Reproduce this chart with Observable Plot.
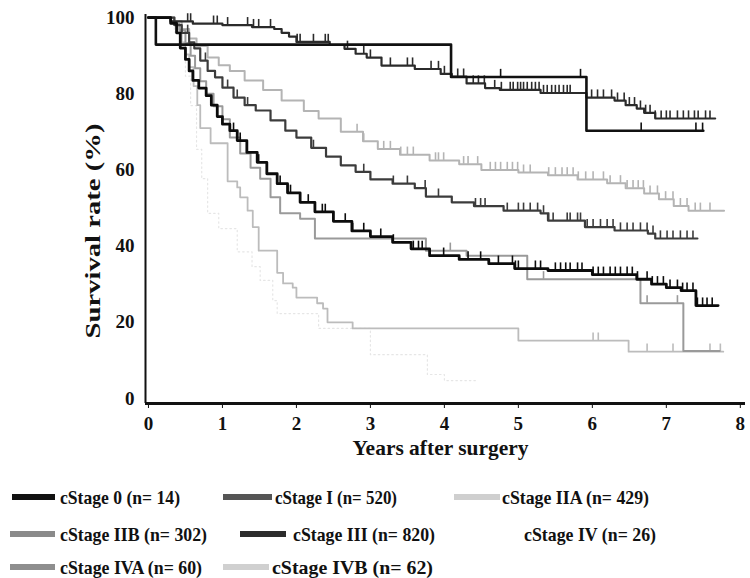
<!DOCTYPE html>
<html><head><meta charset="utf-8">
<script src="https://cdn.jsdelivr.net/npm/d3@7"></script>
<script src="https://cdn.jsdelivr.net/npm/@observablehq/plot@0.6"></script>
<style>
body{margin:0;background:#fff;}
#chart svg{display:block}
</style>
</head><body><div id="chart"></div><script>
// ---------- data ----------
const stages = ["cStage 0", "cStage I", "cStage IIA", "cStage IIB", "cStage III", "cStage IV", "cStage IVA", "cStage IVB"];
const nCounts = [14, 520, 429, 302, 820, 26, 60, 62];
const xTicks = [0, 1, 2, 3, 4, 5, 6, 7, 8];
const yTicks = [0, 20, 40, 60, 80, 100];
const xLabel = "Years after surgery";
const yLabel = "Survival rate (%)";

const t0 = [0, 0.1, 4.09, 5.92, 7.5];
const s0 = [100, 92.9, 84.4, 70.3, 70.3];
const c0 = [4.76, 5.84, 6.66, 7.4, 7.49];

const tI = [0, 0.3, 0.6, 1.0, 1.4, 1.7, 1.8, 1.9, 2.0, 2.45, 2.65, 2.8, 2.95, 3.15, 3.6, 3.95, 4.1, 4.3, 4.55, 4.75, 5.3, 5.92, 6.3, 6.45, 6.6, 6.7, 6.85, 7.66];
const sI = [100, 99, 98.4, 98, 97.5, 97, 96, 95, 93.6, 92.8, 91.8, 90.5, 89.5, 87.4, 86.5, 85.2, 84.5, 82.7, 81.5, 81, 80.2, 79, 78.2, 77, 76.1, 75, 73.5, 73.5];
const cI = [0.53, 0.57, 0.88, 0.93, 1.07, 1.34, 1.42, 1.49, 1.65, 2.01, 2.05, 2.23, 2.39, 2.43, 2.69, 2.91, 3.0, 3.27, 3.5, 3.57, 3.82, 3.92, 4.0, 4.18, 4.26, 4.39, 4.46, 4.54, 4.68, 4.77, 4.89, 4.93, 4.99, 5.03, 5.07, 5.12, 5.18, 5.23, 5.28, 5.34, 5.39, 5.45, 5.5, 5.55, 5.61, 5.66, 5.7, 5.99, 6.07, 6.15, 6.26, 6.34, 6.43, 6.5, 6.57, 6.65, 6.72, 6.78, 6.85, 6.93, 7.0, 7.05, 7.15, 7.23, 7.3, 7.38, 7.43, 7.53, 7.59];

const tIIA = [0, 0.3, 0.45, 0.55, 0.65, 0.8, 0.95, 1.1, 1.3, 1.55, 1.8, 2.1, 2.3, 2.6, 2.9, 3.1, 3.4, 3.8, 4.2, 4.5, 5.0, 5.4, 5.8, 6.2, 6.45, 6.7, 6.9, 7.1, 7.3, 7.78];
const sIIA = [100, 99, 97, 94.5, 92.5, 89.5, 87.5, 86, 83.5, 81, 78.2, 75.5, 73.5, 70, 67.5, 65.5, 64, 62.5, 61.5, 60, 59.3, 58.6, 57.5, 56.5, 55.2, 53.8, 52.3, 50.5, 49.3, 49.3];
const cIIA = [2.82, 2.91, 3.18, 3.27, 3.41, 3.5, 3.58, 3.88, 3.92, 3.99, 4.26, 4.32, 4.45, 4.62, 4.69, 4.76, 4.85, 4.92, 4.99, 5.07, 5.16, 5.41, 5.5, 5.59, 5.66, 5.74, 5.81, 5.91, 6.01, 6.15, 6.24, 6.38, 6.47, 6.55, 6.62, 6.69, 6.78, 6.88, 6.99, 7.09, 7.19, 7.28, 7.39, 7.46, 7.59];

const tIIB = [0, 0.35, 0.45, 0.55, 0.62, 0.7, 0.8, 0.9, 1.0, 1.15, 1.3, 1.45, 1.65, 1.85, 2.0, 2.2, 2.4, 2.6, 2.8, 3.0, 3.3, 3.6, 3.75, 4.1, 4.4, 4.8, 5.3, 5.4, 5.9, 6.3, 6.75, 6.85, 7.42];
const sIIB = [100, 98, 96, 93.5, 91.9, 88.7, 86, 84.3, 81.6, 79, 77, 75.6, 73, 70.3, 68.5, 65.8, 63.5, 61.2, 59.5, 57.5, 56.4, 55.2, 53, 51.5, 50.5, 49.3, 48.6, 46.7, 45, 44.1, 43.3, 42, 42];
const cIIB = [0.53, 0.77, 1.07, 1.2, 1.34, 2.23, 2.91, 3.31, 3.5, 3.74, 3.92, 4.42, 4.49, 4.55, 4.85, 5.0, 5.07, 5.16, 5.26, 5.34, 5.41, 5.47, 5.66, 5.7, 5.8, 5.84, 5.93, 6.01, 6.11, 6.2, 6.28, 6.38, 6.47, 6.55, 6.65, 6.74, 6.82, 6.92, 7.01, 7.09, 7.19, 7.28, 7.36];

const tIII = [0, 0.3, 0.38, 0.43, 0.5, 0.55, 0.6, 0.68, 0.78, 0.85, 0.93, 1.0, 1.1, 1.2, 1.33, 1.47, 1.6, 1.74, 1.88, 2.05, 2.25, 2.5, 2.75, 3.0, 3.3, 3.55, 3.8, 4.2, 4.6, 4.95, 5.4, 6.0, 6.6, 6.8, 7.0, 7.2, 7.4, 7.7];
const sIII = [100, 98.5, 96, 92, 89, 86, 83.5, 81.5, 79.5, 77, 74, 72, 70.3, 67.7, 64.6, 62, 59, 56.4, 54, 51.5, 49, 46.5, 44, 42.5, 41, 39.3, 37.5, 36.5, 35.4, 34.1, 33.6, 32.5, 31.3, 30, 29.1, 28.3, 24.4, 24.4];
const cIII = [1.15, 1.24, 1.49, 1.78, 1.92, 2.16, 2.35, 2.39, 2.66, 2.76, 2.91, 3.14, 3.31, 3.58, 3.65, 3.7, 3.99, 4.32, 4.49, 4.73, 4.92, 4.96, 5.0, 5.23, 5.3, 5.5, 5.57, 5.64, 5.7, 5.8, 5.86, 6.01, 6.08, 6.15, 6.24, 6.31, 6.38, 6.47, 6.54, 6.61, 6.74, 6.81, 6.88, 6.96, 7.05, 7.15, 7.22, 7.28, 7.36, 7.42, 7.49, 7.55, 7.62];

const tIV = [0, 0.35, 0.42, 0.5, 0.57, 0.65, 0.72, 0.8, 0.95, 1.2, 1.4, 1.51, 1.68, 1.74, 2.3, 3.0, 3.77, 4.0, 4.45];
const sIV = [100, 96.2, 92.3, 84.6, 76.9, 65.4, 57.7, 48.6, 44.6, 38.5, 34.6, 31, 25.7, 22.3, 18.4, 11.5, 6.3, 4.7, 4.7];
const cIV = [];

const tIVA = [0, 0.35, 0.42, 0.5, 0.57, 0.63, 0.7, 0.78, 0.88, 1.0, 1.1, 1.24, 1.38, 1.51, 1.65, 1.78, 2.05, 2.25, 3.75, 4.3, 5.12, 6.65, 7.23, 7.72];
const sIVA = [100, 98.3, 96.7, 93.3, 90, 86.7, 83.3, 80, 76.7, 73.3, 68.5, 64.3, 60.6, 57.7, 52.8, 48.6, 47.2, 42, 38.8, 37.5, 31.3, 25, 12.5, 12.5];
const cIVA = [4.08, 5.34, 6.74, 7.15];

const tIVB = [0, 0.3, 0.4, 0.45, 0.5, 0.55, 0.61, 0.66, 0.7, 0.84, 1.07, 1.2, 1.24, 1.34, 1.41, 1.49, 1.74, 1.82, 1.95, 2.0, 2.28, 2.36, 2.42, 2.76, 5.0, 6.49, 7.77];
const sIVB = [100, 98.4, 96.8, 93.5, 90.3, 87, 82, 77, 71, 67, 57, 55.4, 52.8, 49.3, 45, 38.8, 33, 30.2, 29.1, 26.5, 25, 23.6, 20, 18.4, 15.2, 12.3, 12.3];
const cIVB = [6.01, 6.08, 6.74, 7.09, 7.59, 7.73];

// ---------- styles ----------
const lineColors = ["#111", "#2b2b2b", "#b4b4b4", "#3c3c3c", "#0c0c0c", "#e6e6e6", "#9a9a9a", "#bcbcbc"];
const swatchColors = ["#111", "#555", "#cfcfcf", "#8a8a8a", "#2c2c2c", "#ffffff", "#8e8e8e", "#d0d0d0"];
const lineWidths = [2.6, 2.2, 2, 2.2, 2.8, 1.2, 2, 1.8];
const drawOrder = [5, 7, 2, 6, 3, 1, 4, 0];

const times = [t0, tI, tIIA, tIIB, tIII, tIV, tIVA, tIVB];
const survs = [s0, sI, sIIA, sIIB, sIII, sIV, sIVA, sIVB];
const cens = [c0, cI, cIIA, cIIB, cIII, cIV, cIVA, cIVB];

function stepAt(i, t) {
  const T = times[i], S = survs[i];
  let v = S[0];
  for (let k = 0; k < T.length; k++) if (T[k] <= t) v = S[k];
  return v;
}
const curveRows = stages.map((st, i) => times[i].map((t, k) => ({stage: st, t, s: survs[i][k]})));
const censRows = stages.map((st, i) => cens[i].map(t => ({stage: st, t, s: stepAt(i, t)})));

const xDom = [-0.04, 8.07];
const yDom = [-1.31, 100.8];

const marks = [];
for (const i of drawOrder) {
  marks.push(Plot.line(curveRows[i], {x: "t", y: "s", curve: "step-after", stroke: lineColors[i], strokeWidth: lineWidths[i], strokeDasharray: i === 5 ? "1.5,3" : null}));
  if (censRows[i].length) marks.push(Plot.ruleX(censRows[i], {x: "t", y1: "s", y2: d => d.s + 2, stroke: lineColors[i], strokeWidth: 1.6}));
}

const plot = Plot.plot({
  width: 750, height: 470,
  marginLeft: 145, marginRight: 5, marginTop: 14, marginBottom: 67,
  x: {domain: xDom},
  y: {domain: yDom},
  style: {fontFamily: "Liberation Serif", fontWeight: "bold", fontSize: "19px", background: "#fff", color: "#111"},
  marks: [
    ...marks,
    Plot.ruleX([xDom[0]], {stroke: "#111", strokeWidth: 2}),
    Plot.ruleY([yDom[0]], {stroke: "#111", strokeWidth: 3}),
    Plot.axisY({ticks: yTicks, tickSize: 0, tickPadding: 11, label: null, fontSize: 19}),
    Plot.axisX({ticks: xTicks, tickSize: 5, tickPadding: 8, label: null, fontSize: 19}),
    Plot.text([yLabel], {frameAnchor: "left", dx: -52, dy: 129.5, rotate: -90, textAnchor: "start", fontSize: 20, fontWeight: "bold"}),
    Plot.text([xLabel], {frameAnchor: "bottom", dx: -5, dy: 51, fontSize: 21, fontWeight: "bold"})
  ]
});
document.getElementById("chart").appendChild(plot);
d3.select(plot).selectAll("text").filter(function () { return this.textContent === yLabel; })
  .attr("textLength", 215).attr("lengthAdjust", "spacingAndGlyphs");
d3.select(plot).selectAll("text").filter(function () { return this.textContent === xLabel; })
  .attr("textLength", 176).attr("lengthAdjust", "spacingAndGlyphs");

// ---------- legend ----------
const legendLayout = [
  {sw: [12, 55], tx: [60, 180], row: 0},
  {sw: [223, 272], tx: [275, 397], row: 0},
  {sw: [454, 500], tx: [502, 649], row: 0},
  {sw: [10, 55], tx: [60, 207], row: 1},
  {sw: [240, 286], tx: [293, 435], row: 1},
  {sw: null, tx: [524, 656], row: 1},
  {sw: [10, 55], tx: [60, 202], row: 2},
  {sw: [223, 269], tx: [272, 433], row: 2}
];
const rowY = [27, 64, 97];
const leg = d3.select("#chart").append("svg").attr("width", 750).attr("height", 108)
  .style("font-family", "Liberation Serif").style("font-weight", "bold");
stages.forEach((st, i) => {
  const L = legendLayout[i];
  const y = rowY[L.row];
  if (L.sw) leg.append("rect").attr("x", L.sw[0]).attr("y", y - 3).attr("width", L.sw[1] - L.sw[0]).attr("height", 6).attr("fill", swatchColors[i]);
  leg.append("text").attr("x", L.tx[0]).attr("y", y + 7).attr("font-size", 19).attr("fill", "#111")
    .attr("textLength", L.tx[1] - L.tx[0]).attr("lengthAdjust", "spacingAndGlyphs")
    .text(`${st} (n= ${nCounts[i]})`);
});
</script></body></html>
